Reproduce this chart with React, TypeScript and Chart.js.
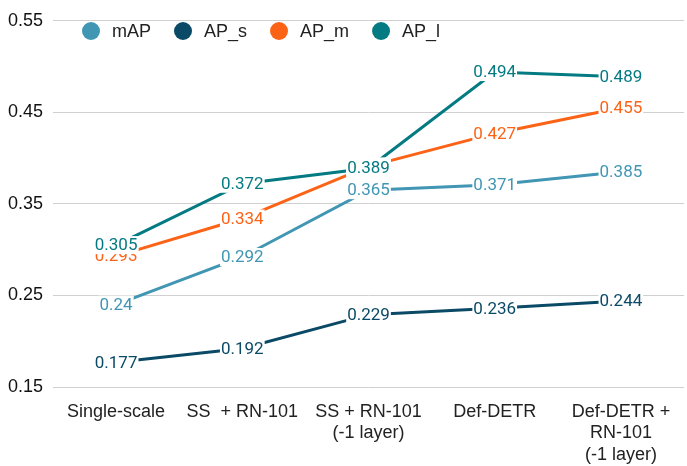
import React, { useEffect, useRef } from "react";
import { Chart, registerables } from "chart.js";

Chart.register(...registerables);

const categories: (string | string[])[] = [
  "Single-scale",
  "SS  + RN-101",
  ["SS + RN-101", "(-1 layer)"],
  "Def-DETR",
  ["Def-DETR +", "RN-101", "(-1 layer)"],
];
const mAP = [0.24, 0.292, 0.365, 0.371, 0.385];
const APs = [0.177, 0.192, 0.229, 0.236, 0.244];
const APm = [0.293, 0.334, 0.391, 0.427, 0.455];
const APl = [0.305, 0.372, 0.389, 0.494, 0.489];
const yTicks = [0.15, 0.25, 0.35, 0.45, 0.55];

const seriesNames = ["mAP", "AP_s", "AP_m", "AP_l"];
const seriesColors = ["#4196b4", "#0a4a66", "#fc6316", "#047a82"];

const labelPlugin = {
  id: "pointLabels",
  afterDatasetsDraw(chart: any) {
    const ctx = chart.ctx;
    ctx.save();
    ctx.font = "17px Roboto";
    ctx.textAlign = "center";
    ctx.textBaseline = "middle";
    chart.data.datasets.forEach((ds: any, di: number) => {
      const meta = chart.getDatasetMeta(di);
      meta.data.forEach((pt: any, i: number) => {
        const txt = String(ds.data[i]);
        const w = ctx.measureText(txt).width;
        ctx.fillStyle = "#ffffff";
        ctx.fillRect(pt.x - w / 2 - 1, pt.y - 9, w + 2, 18);
        ctx.fillStyle = ds.borderColor;
        ctx.fillText(txt, pt.x, pt.y + 1);
      });
    });
    ctx.restore();
  },
};

const legendPlugin = {
  id: "innerLegend",
  afterDraw(chart: any) {
    const ctx = chart.ctx;
    ctx.save();
    ctx.font = "18px 'Liberation Sans', Arial, sans-serif";
    ctx.textBaseline = "middle";
    let x = 82;
    const y = 31;
    chart.data.datasets.forEach((ds: any) => {
      ctx.fillStyle = ds.borderColor;
      ctx.beginPath();
      ctx.arc(x + 9, y, 9, 0, Math.PI * 2);
      ctx.fill();
      ctx.fillStyle = "#222222";
      ctx.textAlign = "left";
      ctx.fillText(ds.label, x + 30, y + 1);
      const w = ctx.measureText(ds.label).width;
      x = x + 30 + w + 23;
    });
    ctx.restore();
  },
};

export default function App() {
  const ref = useRef<HTMLCanvasElement>(null);
  useEffect(() => {
    document.body.style.margin = "0";
    const values = [mAP, APs, APm, APl];
    const chart = new Chart(ref.current!, {
      type: "line",
      data: {
        labels: categories,
        datasets: values.map((v, i) => ({
          label: seriesNames[i],
          data: v,
          borderColor: seriesColors[i],
          backgroundColor: seriesColors[i],
          borderWidth: 3,
          pointRadius: 0,
          tension: 0,
          fill: false,
        })),
      },
      options: {
        animation: false,
        responsive: false,
        devicePixelRatio: 1,
        layout: { padding: { top: 17, right: 3, left: 0, bottom: 0 } },
        plugins: { legend: { display: false }, tooltip: { enabled: false } },
        scales: {
          x: {
            offset: true,
            grid: { display: false },
            border: { display: false },
            ticks: {
              color: "#222222",
              font: { family: "'Liberation Sans', Arial, sans-serif", size: 18, lineHeight: 1.2 },
              padding: 6,
              maxRotation: 0,
              autoSkip: false,
            },
            afterFit(scale: any) {
              scale.height = 466 - 387;
            },
          },
          y: {
            min: 0.15,
            max: 0.55,
            afterBuildTicks(axis: any) {
              axis.ticks = yTicks.map((v) => ({ value: v }));
            },
            grid: { color: "#d0d0d0", lineWidth: 1, drawTicks: false },
            border: { display: false },
            ticks: {
              color: "#111111",
              font: { family: "'Liberation Sans', Arial, sans-serif", size: 18 },
              padding: 10,
              callback: (v: any) => Number(v).toFixed(2),
            },
            afterFit(scale: any) {
              scale.width = 53;
            },
          },
        },
      },
      plugins: [labelPlugin, legendPlugin],
    });
    return () => chart.destroy();
  }, []);
  return (
    <div style={{ width: 687, height: 466 }}>
      <canvas ref={ref} width={687} height={466} style={{ width: 687, height: 466 }} />
    </div>
  );
}
